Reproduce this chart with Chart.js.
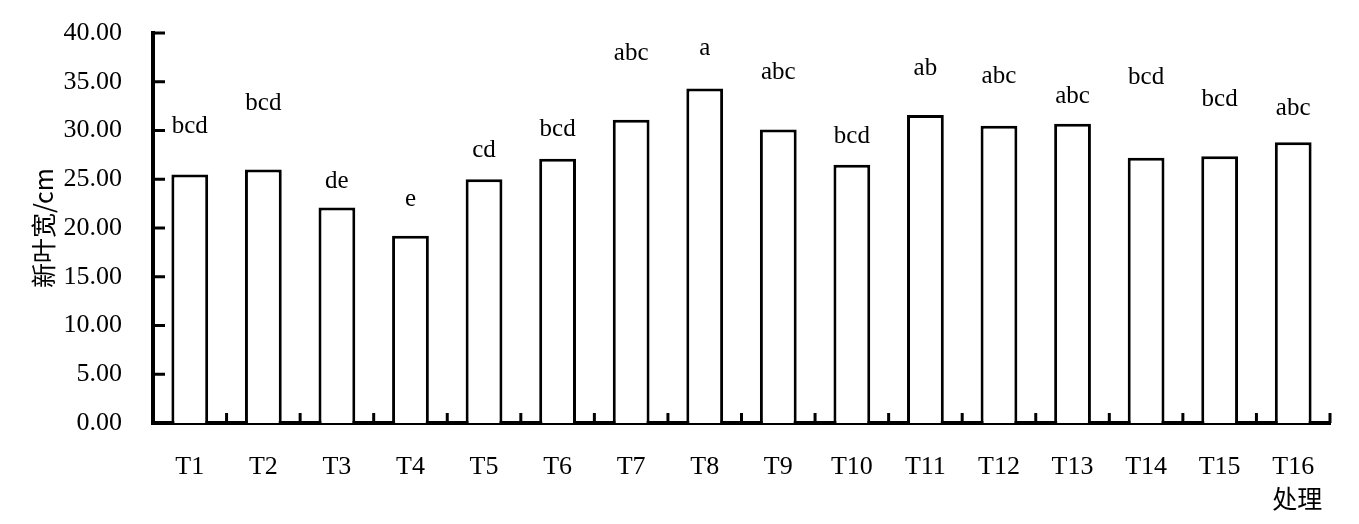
<!DOCTYPE html>
<html>
<head>
<meta charset="utf-8">
<script src="https://cdn.jsdelivr.net/npm/chart.js@4.4.1/dist/chart.umd.min.js"></script>
<style>
  html, body { margin: 0; padding: 0; background: #fff; }
  #wrap { width: 1359px; height: 524px; }
</style>
</head>
<body>
<div id="wrap"><canvas id="myChart" width="1359" height="524"></canvas></div>
<script>
// datos
const categorias = ['T1', 'T2', 'T3', 'T4', 'T5', 'T6', 'T7', 'T8', 'T9', 'T10', 'T11', 'T12', 'T13', 'T14', 'T15', 'T16'];
const anchoHoja = [25.5, 26.0, 22.1, 19.2, 25.0, 27.1, 31.1, 34.3, 30.1, 26.5, 31.6, 30.5, 30.7, 27.2, 27.35, 28.8];
const letras = ['bcd', 'bcd', 'de', 'e', 'cd', 'bcd', 'abc', 'a', 'abc', 'bcd', 'ab', 'abc', 'abc', 'bcd', 'bcd', 'abc'];
// altura (en cm) donde va cada letra de significancia
const alturaLetras = [30.4, 32.8, 24.8, 22.9, 27.95, 30.1, 37.9, 38.4, 36.0, 29.4, 36.4, 35.5, 33.5, 35.4, 33.2, 32.3];
const ticksY = [0, 5, 10, 15, 20, 25, 30, 35, 40];
const tituloY = '新叶宽/cm';
const tituloX = '处理';

const fuente = '"Liberation Serif", "Times New Roman", "Noto Sans CJK SC", serif';

// dibuja las marcas hacia adentro, las letras y el titulo del eje x
const extras = {
    id: 'extras',
    afterDatasetsDraw(chart) {
        const ctx = chart.ctx;
        const x = chart.scales.x;
        const y = chart.scales.y;
        const area = chart.chartArea;
        ctx.save();
        ctx.strokeStyle = '#000';
        ctx.lineWidth = 3;
        // marcas del eje y
        ticksY.forEach(function (v) {
            const py = y.getPixelForValue(v);
            ctx.beginPath();
            ctx.moveTo(area.left, py);
            ctx.lineTo(area.left + 12, py);
            ctx.stroke();
        });
        // marcas del eje x entre categorias
        const paso = x.getPixelForValue(1) - x.getPixelForValue(0);
        for (let i = 0; i <= categorias.length; i++) {
            const px = x.getPixelForValue(i) - paso / 2;
            ctx.beginPath();
            ctx.moveTo(px, area.bottom);
            ctx.lineTo(px, area.bottom - 10);
            ctx.stroke();
        }
        // letras
        ctx.fillStyle = '#000';
        ctx.font = '25px ' + fuente;
        ctx.textAlign = 'center';
        ctx.textBaseline = 'middle';
        letras.forEach(function (l, i) {
            ctx.fillText(l, x.getPixelForValue(i), y.getPixelForValue(alturaLetras[i]));
        });
        // titulo eje x
        ctx.font = '25px "Noto Sans CJK SC", serif';
        ctx.fillText(tituloX, x.getPixelForValue(categorias.length - 1) + 4, 498);
        ctx.restore();
    }
};

const ctx = document.getElementById('myChart').getContext('2d');
const chart = new Chart(ctx, {
    type: 'bar',
    data: {
        labels: categorias,
        datasets: [{
            data: anchoHoja,
            backgroundColor: '#fff',
            borderColor: '#000',
            borderWidth: 3,
            categoryPercentage: 1,
            barPercentage: 0.5
        }]
    },
    options: {
        responsive: false,
        animation: false,
        layout: { padding: { top: 33, right: 29, left: 28, bottom: 0 } },
        plugins: {
            legend: { display: false },
            tooltip: { enabled: false }
        },
        scales: {
            x: {
                // la separacion de las etiquetas se hace con tickLength (marcas invisibles)
                grid: { display: false, drawTicks: true, tickLength: 29 },
                border: { display: true, color: '#000', width: 4 },
                ticks: {
                    color: '#000',
                    padding: 0,
                    font: { family: fuente, size: 26 }
                },
                afterFit(scale) { scale.height = 101; }
            },
            y: {
                min: 0,
                max: 40,
                grid: { display: false, drawTicks: true, tickLength: 31 },
                border: { display: true, color: '#000', width: 4 },
                afterBuildTicks(scale) {
                    scale.ticks = ticksY.map(function (v) { return { value: v }; });
                },
                ticks: {
                    color: '#000',
                    padding: 0,
                    font: { family: fuente, size: 26 },
                    callback: function (v) { return Number(v).toFixed(2); }
                },
                title: {
                    display: true,
                    text: tituloY,
                    color: '#000',
                    padding: 0,
                    font: { family: '"Noto Sans CJK SC", serif', size: 25 }
                },
                afterFit(scale) { scale.width = 125; }
            }
        }
    },
    plugins: [extras]
});
</script>
</body>
</html>
